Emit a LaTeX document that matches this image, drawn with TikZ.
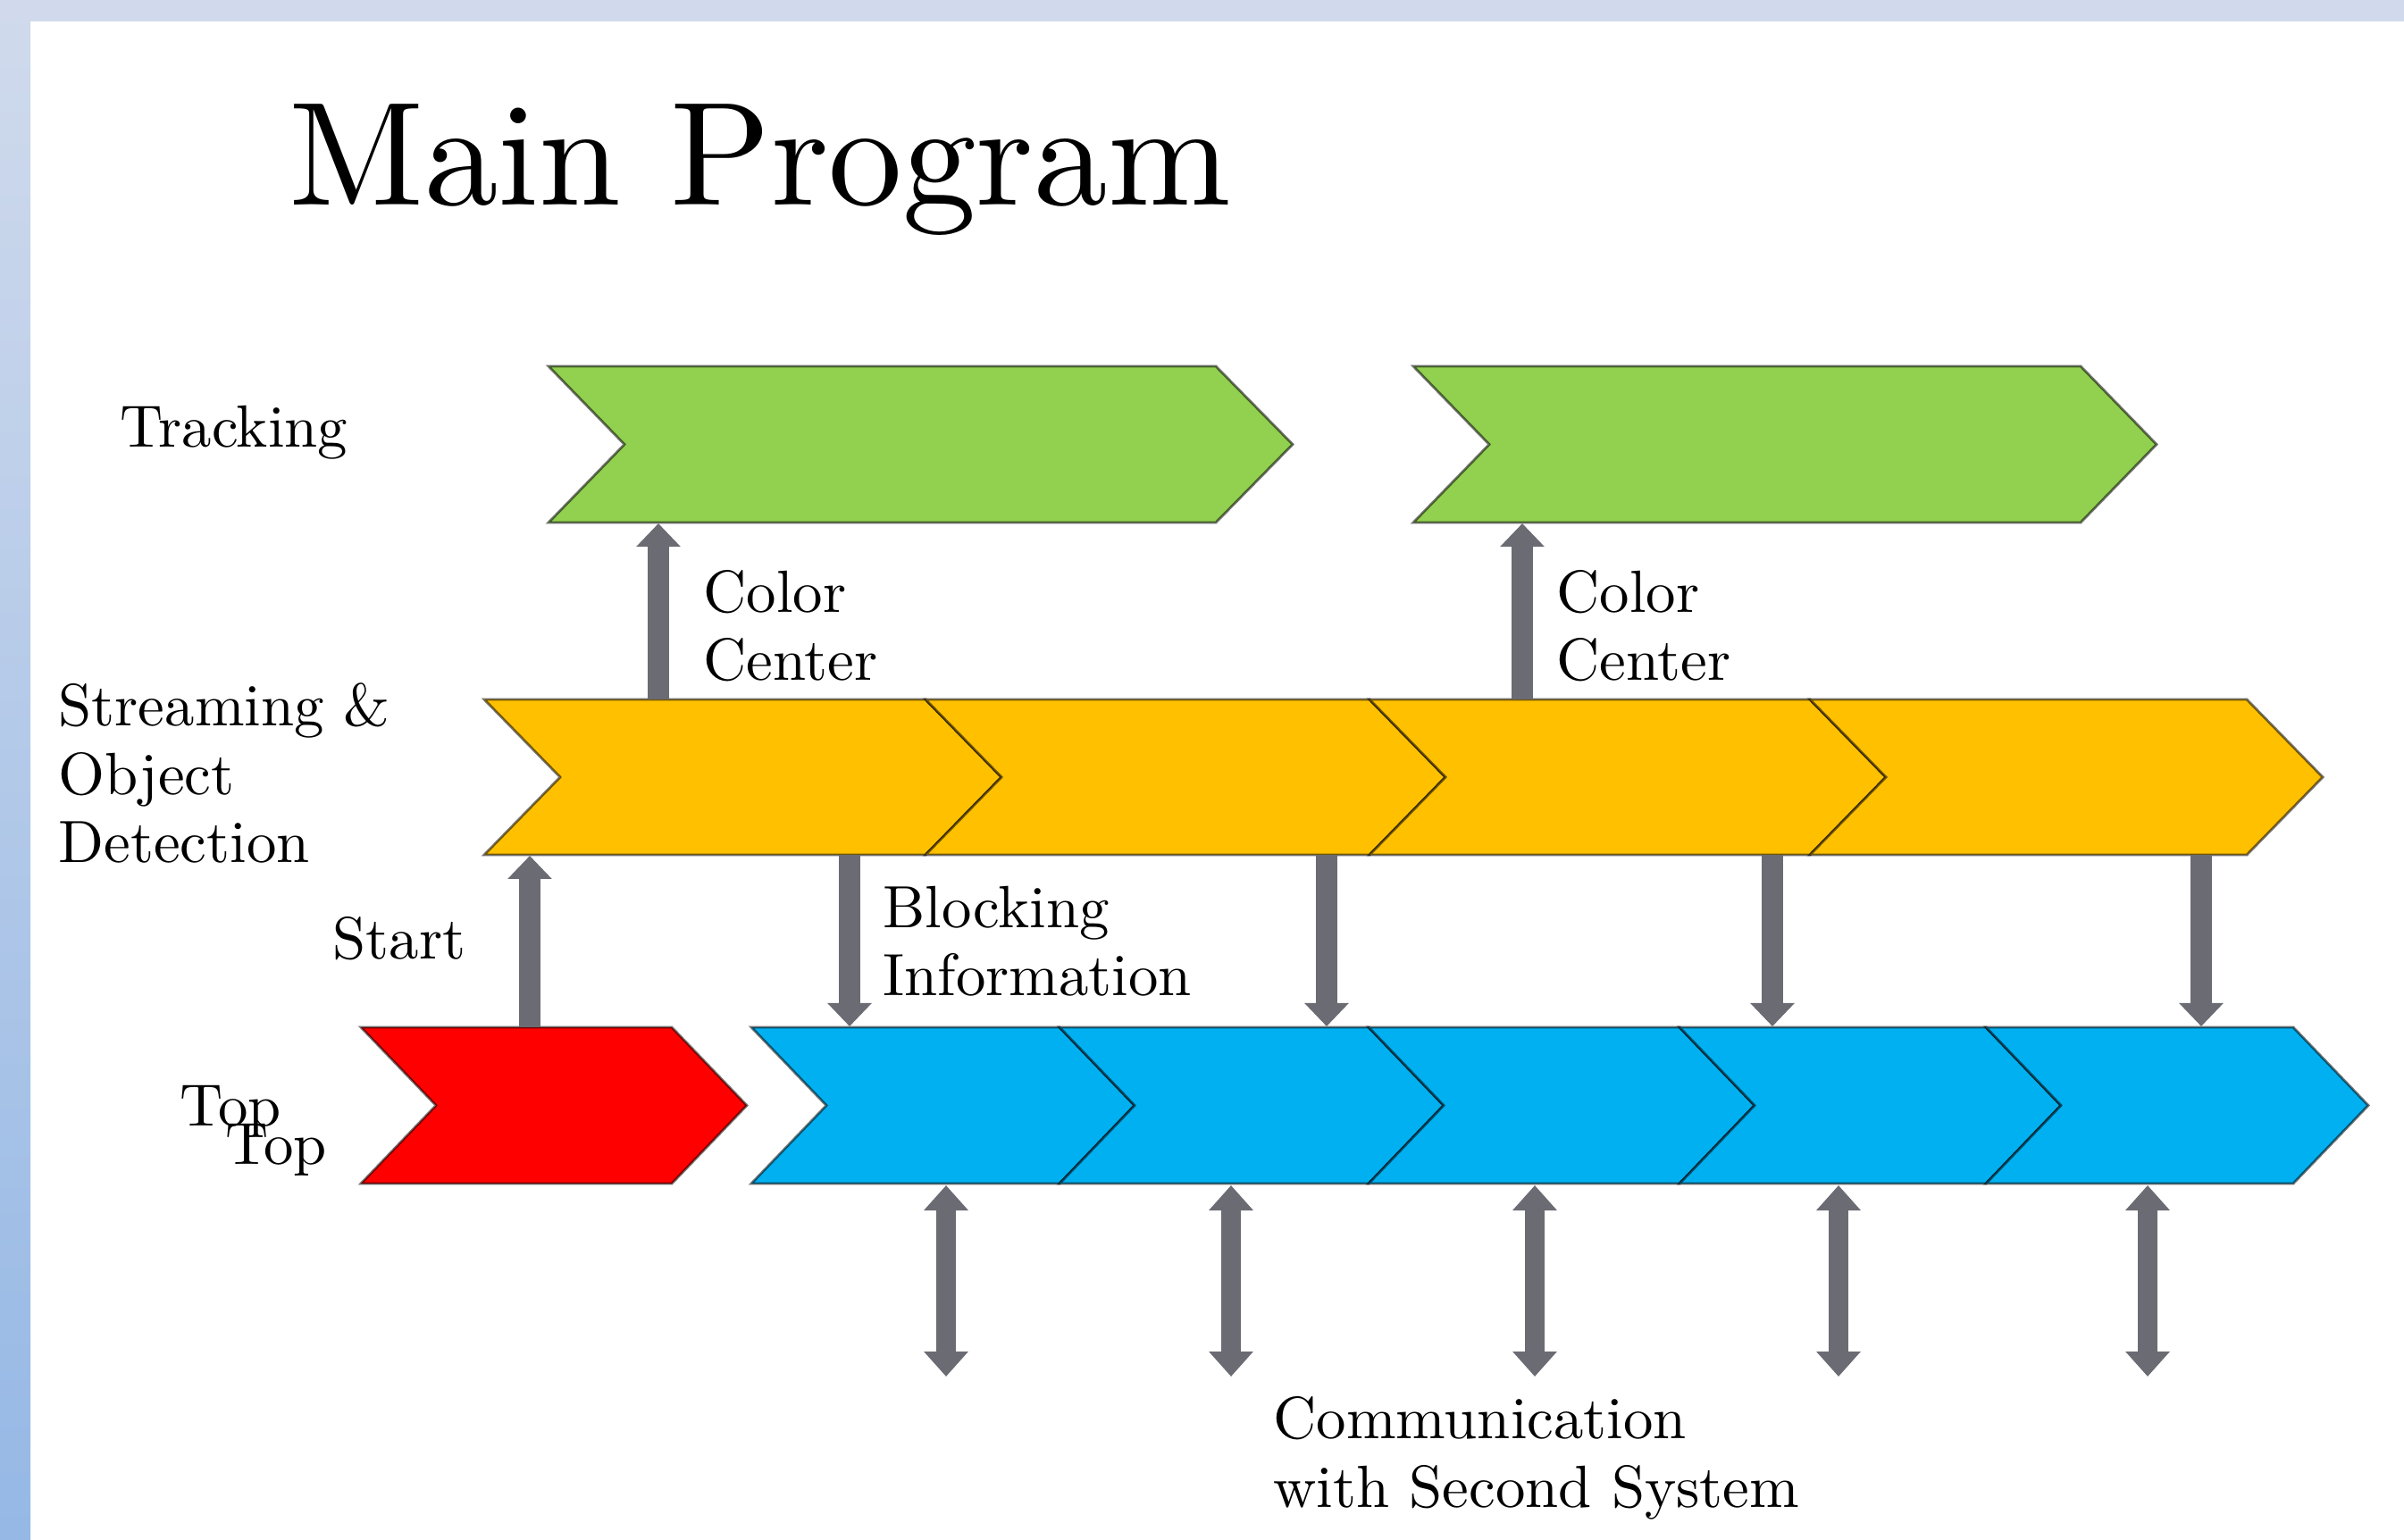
\documentclass[tikz,border=0pt]{standalone}
\usepackage{fontspec}
\setmainfont{lmroman10-regular.otf}
\usetikzlibrary{arrows.meta}
\definecolor{trackgreen}{RGB}{146,208,80}
\definecolor{streamyellow}{RGB}{255,192,0}
\definecolor{topblue}{RGB}{0,176,240}
\definecolor{startred}{RGB}{255,0,0}
\definecolor{arrowgray}{RGB}{106,107,115}
\definecolor{bandlight}{RGB}{208,218,236}
\definecolor{banddark}{RGB}{149,184,229}
\tikzset{
  chev/.style={draw=black, draw opacity=0.55, line width=0.8pt, line join=miter},
  lbl/.style={inner sep=0pt, anchor=base west, align=left, font=\fontsize{19}{21.9}\selectfont},
  upblock/.style={draw=arrowgray, line width=2.4mm, -{Triangle[width=4.8mm,length=2.6mm]}},
  dblblock/.style={draw=arrowgray, line width=2.2mm, {Triangle[width=4.8mm,length=2.8mm]}-{Triangle[width=4.8mm,length=2.8mm]}}
}
\begin{document}
\begin{tikzpicture}
  \useasboundingbox (0,0) rectangle (26.91,17.23);
  \fill[white] (0,0) rectangle (26.91,17.23);
  \shade[top color=bandlight, bottom color=banddark] (0,0) rectangle (0.34,17.23);
  \fill[bandlight] (0,16.99) rectangle (26.91,17.23);
  \node[inner sep=0pt, anchor=base west, font=\fontsize{47}{56}\selectfont] (title) at (3.23,14.93) {Main Program};
  % tracking row
  \filldraw[chev, fill=trackgreen] (6.14,13.13) -- (13.61,13.13) -- (14.47,12.255) -- (13.61,11.38) -- (6.14,11.38) -- (6.99,12.255) -- cycle;
  \filldraw[chev, fill=trackgreen] (15.82,13.13) -- (23.29,13.13) -- (24.14,12.255) -- (23.29,11.38) -- (15.82,11.38) -- (16.67,12.255) -- cycle;
  % streaming row
  \foreach \a/\b in {5.42/10.36, 10.36/15.33, 15.33/20.26, 20.26/25.15}
    \filldraw[chev, fill=streamyellow] (\a,9.40) -- (\b,9.40) -- ++(0.85,-0.87) -- (\b,7.66) -- (\a,7.66) -- ++(0.85,0.87) -- cycle;
  % top row
  \filldraw[chev, fill=startred] (4.04,5.73) -- (7.52,5.73) -- ++(0.84,-0.875) -- (7.52,3.98) -- (4.04,3.98) -- ++(0.84,0.875) -- cycle;
  \foreach \a/\b in {8.41/11.86, 11.86/15.32, 15.32/18.80, 18.80/22.23, 22.23/25.67}
    \filldraw[chev, fill=topblue] (\a,5.73) -- (\b,5.73) -- ++(0.84,-0.875) -- (\b,3.98) -- (\a,3.98) -- ++(0.84,0.875) -- cycle;
  % labels
  \node[lbl] (trk) at (1.34,12.22) {Tracking};
  \node[lbl] (stream) at (0.65,7.57) {Streaming \&\\Object\\Detection};
  \node[lbl] (top1) at (2.01,4.63) {Top};
  \node[lbl] (top2) at (2.52,4.20) {Top};
  \node[lbl] (start) at (3.72,6.49) {Start};
  \node[lbl] (cc1) at (7.87,9.61) {Color\\Center};
  \node[lbl] (cc2) at (17.42,9.61) {Color\\Center};
  \node[lbl] (blk) at (9.88,6.08) {Blocking\\Information};
  \node[lbl] (comm) at (14.25,0.36) {Communication\\with Second System};
  % arrows
  \foreach \x [count=\i] in {7.37,17.04}{
    \coordinate (cca\i) at (\x,9.40);
    \coordinate (ccb\i) at (\x,11.37);
    \draw[upblock] (cca\i) -- (ccb\i);
  }
  \coordinate (sta) at (5.93,5.73);
  \coordinate (stb) at (5.93,7.65);
  \draw[upblock] (sta) -- (stb);
  \foreach \x [count=\i] in {9.51,14.85,19.84,24.64}{
    \coordinate (blka\i) at (\x,7.66);
    \coordinate (blkb\i) at (\x,5.74);
    \draw[upblock] (blka\i) -- (blkb\i);
  }
  \foreach \x [count=\i] in {10.59,13.78,17.18,20.58,24.04}{
    \coordinate (coma\i) at (\x,3.96);
    \coordinate (comb\i) at (\x,1.82);
    \draw[dblblock] (coma\i) -- (comb\i);
  }
\end{tikzpicture}
\end{document}
